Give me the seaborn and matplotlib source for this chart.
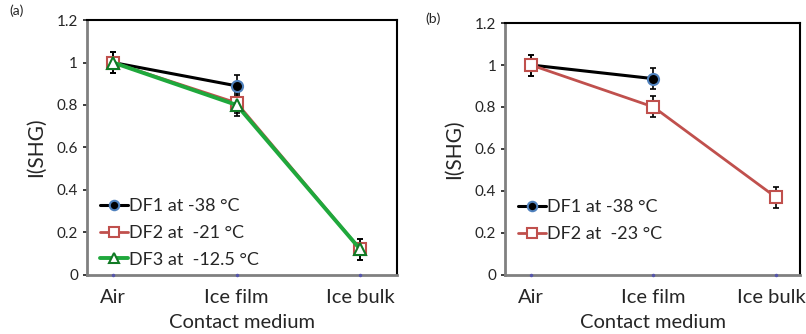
import matplotlib
matplotlib.use('Agg')
from matplotlib import pyplot as plt
import matplotlib.transforms as mtransforms
import numpy as np
import pandas as pd
import seaborn as sns

sns.set_theme(style='white')
plt.rcParams['font.family'] = ['Lato', 'DejaVu Sans']

# %% Data
media = ['Air', 'Ice film', 'Ice bulk']
yticks = [0, 0.2, 0.4, 0.6, 0.8, 1, 1.2]
ytick_labels = ['0', '0.2', '0.4', '0.6', '0.8', '1', '1.2']

a_labels = ['DF1 at -38 °C', 'DF2 at  -21 °C', 'DF3 at  -12.5 °C']
a_df1 = [1.0, 0.89]
a_df2 = [1.0, 0.81, 0.12]
a_df3 = [1.0, 0.80, 0.12]
a_err = 0.05

b_labels = ['DF1 at -38 °C', 'DF2 at  -23 °C']
b_df1 = [1.0, 0.935]
b_df2 = [1.0, 0.80, 0.37]
b_err = 0.05

styles = [
    dict(color='black', marker='o', mfc='black', mec='#4f81bd', ms=8, lw=2.2),
    dict(color='#c0504d', marker='s', mfc='white', mec='#c0504d', ms=8, lw=2.0),
    dict(color='#1fa83c', marker='^', mfc='white', mec='#117a25', ms=8, lw=2.8),
]


def draw(ax, series, labels, err, xmax):
    for vals, label, st in zip(series, labels, styles):
        df = pd.DataFrame({'x': np.arange(len(vals)), 'y': vals})
        ax.errorbar(df['x'], df['y'], yerr=err, fmt='none', ecolor='black',
                    elinewidth=1.2, capsize=2.5, capthick=1.2, zorder=4)
        sns.lineplot(data=df, x='x', y='y', ax=ax, color=st['color'], lw=st['lw'],
                     marker=st['marker'], markerfacecolor=st['mfc'],
                     markeredgecolor=st['mec'], markeredgewidth=1.5,
                     markersize=st['ms'], label=label, zorder=5)
    ax.set_xlim(-0.21, xmax)
    ax.set_ylim(0, 1.2)
    ax.set_yticks(yticks)
    ax.set_yticklabels(ytick_labels, fontsize=11)
    ax.set_xticks(range(len(media)))
    ax.set_xticklabels(media, fontsize=14.5)
    ax.tick_params(axis='x', length=0, pad=10)
    ax.tick_params(axis='y', length=3, left=True, direction='out')
    ax.plot(range(len(media)), [0] * len(media), ls='none', marker='.', ms=3,
            color='#5555aa', clip_on=False, zorder=6)
    ax.set_xlabel('Contact medium', fontsize=14.5, labelpad=6)
    ax.set_ylabel('I(SHG)', fontsize=15, labelpad=8)
    for s in ['top', 'right']:
        ax.spines[s].set_color('black')
        ax.spines[s].set_linewidth(1.5)
    for s in ['left', 'bottom']:
        ax.spines[s].set_color('#808080')
        ax.spines[s].set_linewidth(2.0)
    ax.legend(loc='upper left', frameon=False, fontsize=13, handlelength=1.5,
              markerscale=0.85, handletextpad=0.1, borderaxespad=0.0,
              bbox_to_anchor=(0.02, 0.33), labelspacing=0.6)


fig = plt.figure(figsize=(8.06, 3.34), dpi=100)
ax1 = fig.add_axes([0.108, 0.177, 0.385, 0.763])
ax2 = fig.add_axes([0.627, 0.177, 0.366, 0.754])

draw(ax1, [a_df1, a_df2, a_df3], a_labels, a_err, 2.3)
draw(ax2, [b_df1, b_df2], b_labels, b_err, 2.2)

# keep the last tick label inside the figure, as in the reference
last = ax2.get_xticklabels()[-1]
last.set_transform(last.get_transform() +
                   mtransforms.ScaledTranslation(-0.05, 0, fig.dpi_scale_trans))

fig.text(0.012, 0.955, '(a)', fontsize=10)
fig.text(0.528, 0.93, '(b)', fontsize=10)

fig.savefig('out.png', dpi=100)
